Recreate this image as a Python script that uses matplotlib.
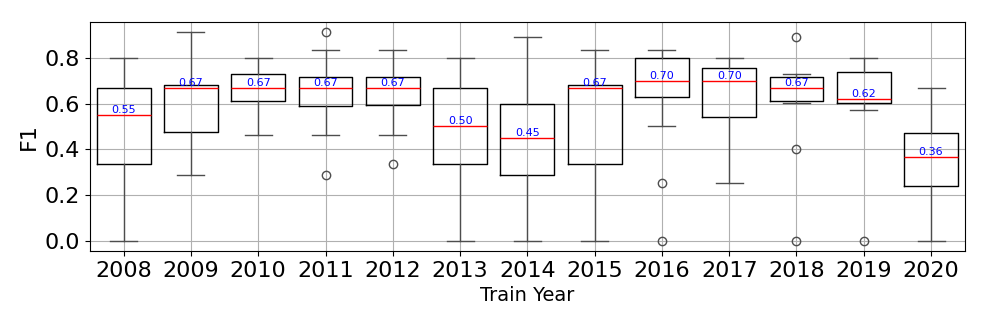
import matplotlib
matplotlib.use("Agg")
import matplotlib.pyplot as plt

# F1 per train year, box stats
years = ["2008", "2009", "2010", "2011", "2012", "2013", "2014",
         "2015", "2016", "2017", "2018", "2019", "2020"]
medians = [0.55, 0.667, 0.667, 0.667, 0.667, 0.50, 0.45,
           0.667, 0.70, 0.70, 0.667, 0.62, 0.364]
q1 = [0.335, 0.476, 0.613, 0.587, 0.595, 0.335, 0.287,
      0.335, 0.627, 0.541, 0.613, 0.602, 0.239]
q3 = [0.667, 0.679, 0.730, 0.716, 0.716, 0.667, 0.596,
      0.683, 0.80, 0.756, 0.716, 0.739, 0.471]
whis_lo = [0.0, 0.287, 0.463, 0.463, 0.463, 0.0, 0.0,
           0.0, 0.50, 0.25, 0.602, 0.573, 0.0]
whis_hi = [0.80, 0.911, 0.80, 0.835, 0.835, 0.80, 0.890,
           0.835, 0.835, 0.80, 0.730, 0.80, 0.667]
outliers = [[], [], [], [0.911, 0.287], [0.335], [], [],
            [], [0.25, 0.0], [], [0.890, 0.40, 0.0], [0.0], []]
yticks = [0.0, 0.2, 0.4, 0.6, 0.8]

stats = []
for i in range(len(years)):
    stats.append({"med": medians[i], "q1": q1[i], "q3": q3[i],
                  "whislo": whis_lo[i], "whishi": whis_hi[i],
                  "fliers": outliers[i], "label": years[i]})

fig = plt.figure(figsize=(9.87, 3.29), dpi=100)
ax = fig.add_axes([0.0912, 0.237, 0.8862, 0.696])
grey = "#4d4d4d"
ax.bxp(stats, widths=0.8,
       medianprops=dict(color="red"),
       whiskerprops=dict(color=grey),
       capprops=dict(color=grey),
       flierprops=dict(markeredgecolor=grey, markersize=6))

# median labels
for i, m in enumerate(medians):
    ax.text(i + 1, m, "%.2f" % m, color="blue", fontsize=8,
            ha="center", va="bottom")

ax.set_yticks(yticks)
ax.grid(True)
ax.set_xlabel("Train Year", fontsize=14)
ax.set_ylabel("F1", fontsize=16)
ax.tick_params(labelsize=16)

fig.savefig("out.png", dpi=100)
